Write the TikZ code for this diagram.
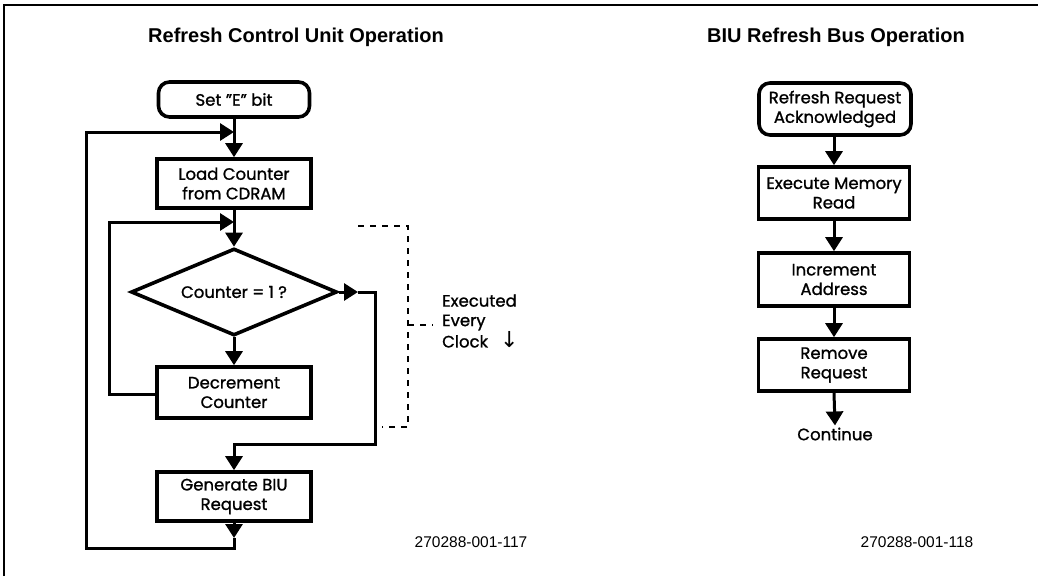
\documentclass[tikz,border=0pt]{standalone}
\usepackage{fontspec}
\setmainfont{Poppins}[FakeBold=1.2]
\newfontfamily\titlefont{Liberation Sans}
\newfontfamily\symfont{DejaVu Sans}
\usetikzlibrary{shapes.geometric,arrows.meta}
\begin{document}
\begin{tikzpicture}[x=1pt,y=-1pt,
  every node/.style={font=\fontsize{16.5}{19.5}\selectfont},
  box/.style={draw, line width=3.6pt, rectangle, minimum width=154pt, minimum height=50pt,
    align=center, inner sep=0pt},
  rbox/.style={box, minimum width=151pt, minimum height=52pt},
  term/.style={box, rounded corners=11pt},
  dec/.style={draw, line width=3.6pt, diamond, aspect=2.37, minimum width=206pt,
    minimum height=87pt, inner sep=0pt},
  conn/.style={line width=3pt},
  flow/.style={conn, -{Triangle[length=14pt,width=17pt]}},
  dashline/.style={line width=1.4pt, dash pattern=on 6pt off 6pt},
  title/.style={font=\titlefont\bfseries\fontsize{20}{24}\selectfont},
  figno/.style={font=\titlefont\fontsize{15.5}{18}\selectfont}]
\useasboundingbox (0,0) rectangle (1038,576);
% frame
\draw[line width=1.5pt] (4,576) -- (4,5) -- (1038,5);

% titles
\node[title] (t1) at (296,37) {Refresh Control Unit Operation};
\node[title] (t2) at (836,37) {BIU Refresh Bus Operation};

% left flowchart
\node[term, minimum width=151pt, minimum height=35pt] (set) at (234,99.5) {Set "E" bit};
\node[box, minimum height=49pt] (load) at (234,183.5) {Load Counter\\from CDRAM};
\node[dec] (dia) at (234,292) {Counter = 1 ?};
\node[box, minimum height=51pt] (decr) at (234,392.5) {Decrement\\Counter};
\node[box, minimum height=49pt] (gen) at (234,496.5) {Generate BIU\\Request};

\coordinate (j1) at (234,132);
\coordinate (j2) at (234,222);
\coordinate (r1) at (358,292);
\coordinate (r2) at (375,444);
\coordinate (g1) at (234,538);
\coordinate (g2) at (234,548);
\coordinate (ol) at (86,548);
\coordinate (il) at (109,394);

\draw[flow] (set.south) -- (load.north);
\draw[flow] (load.south) -- (dia.north);
\draw[flow] (dia.south) -- (decr.north);
\draw[flow] (dia.east) -- (r1);
\draw[flow] (r1) -- (r1 -| r2) -- (r2) -- (r2 -| gen.north) -- (gen.north);
\draw[flow] (gen.south) -- (g1);
\draw[flow] (g1) -- (g2) -- (ol) -- (ol |- j1) -- (j1);
\draw[flow] (decr.west |- il) -- (il) -- (il |- j2) -- (j2);

% dashed bracket
\coordinate (b1) at (358,226);
\coordinate (b2) at (408,226);
\coordinate (b3) at (408,427);
\coordinate (b4) at (382,427);
\coordinate (b5) at (408,325);
\coordinate (b6) at (433,325);
\draw[dashline] (b1) -- (b2) -- (b3) -- (b4);
\draw[dashline] (b5) -- (b6);
\node[anchor=west, align=left, inner sep=0pt] (exe) at (442,321)
  {Executed\\Every\\Clock\hspace{12pt}{\symfont\fontsize{22}{19}\selectfont ↓}};

\node[figno] (n1) at (471,542) {270288-001-117};

% right flowchart
\node[term, minimum width=152pt, minimum height=52pt] (rra) at (835,109) {Refresh Request\\Acknowledged};
\node[rbox] (emr) at (834,193) {Execute Memory\\Read};
\node[rbox, minimum height=53pt] (inc) at (834,279.5) {Increment\\Address};
\node[rbox] (rem) at (834,365) {Remove\\Request};
\node[inner sep=2pt] (cont) at (835,434) {Continue};

\draw[flow] (rra.south -| emr.north) -- (emr.north);
\draw[flow] (emr.south) -- (inc.north);
\draw[flow] (inc.south) -- (rem.north);
\draw[flow] (rem.south) -- (cont.north);

\node[figno] (n2) at (917,542) {270288-001-118};
\end{tikzpicture}
\end{document}
